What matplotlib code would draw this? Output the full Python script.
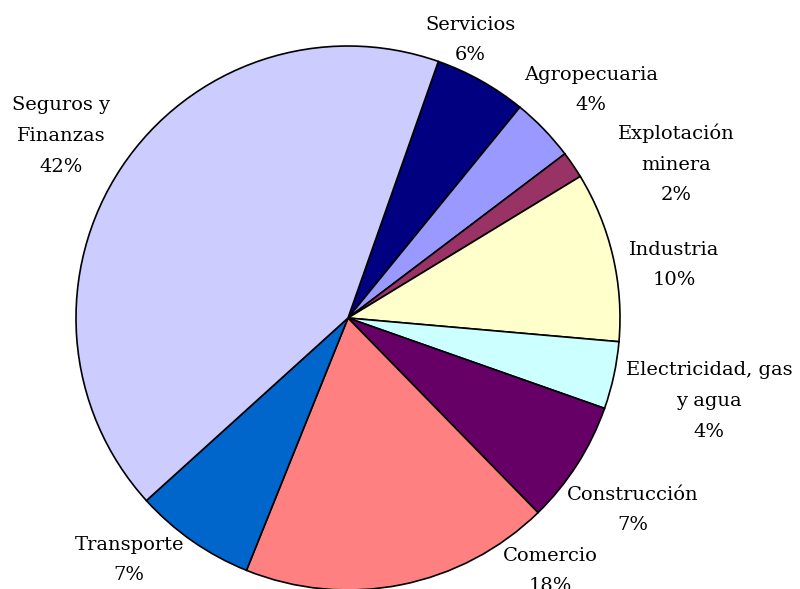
import numpy as np
import matplotlib.pyplot as plt

sectors = ['Servicios', 'Agropecuaria', 'Explotación\nminera', 'Industria',
           'Electricidad, gas\ny agua', 'Construcción', 'Comercio',
           'Transporte', 'Seguros y\nFinanzas']
shares = [5.5, 3.8, 1.6, 10.1, 4.0, 7.3, 18.4, 7.2, 42.1]
pct_labels = ['6%', '4%', '2%', '10%', '4%', '7%', '18%', '7%', '42%']
colors = ['#000080', '#9999FF', '#993366', '#FFFFCC', '#CCFFFF',
          '#660066', '#FF8080', '#0066CC', '#CCCCFF']

# label centres, in units of the pie radius
label_pos = [(0.449, 1.022), (0.893, 0.838), (1.206, 0.566), (1.199, 0.195),
             (1.327, -0.305), (1.048, -0.706), (0.743, -0.93),
             (-0.805, -0.89), (-1.055, 0.669)]

fig = plt.figure(figsize=(8, 5.89), dpi=100)
ax = fig.add_axes([0, 0, 1, 1])

wedges, texts = ax.pie(shares, colors=colors, startangle=70.6, counterclock=False,
                       wedgeprops=dict(edgecolor='black', linewidth=1.2))

for lab, pct, (x, y) in zip(sectors, pct_labels, label_pos):
    ax.text(x, y, lab + '\n' + pct, ha='center', va='center',
            fontsize=14, family='DejaVu Serif', linespacing=1.9)

ax.set_xlim(-348 / 272, 452 / 272)
ax.set_ylim(-271 / 272, 318 / 272)
ax.set_aspect('auto')
ax.axis('off')

fig.savefig('out.png', dpi=100)
